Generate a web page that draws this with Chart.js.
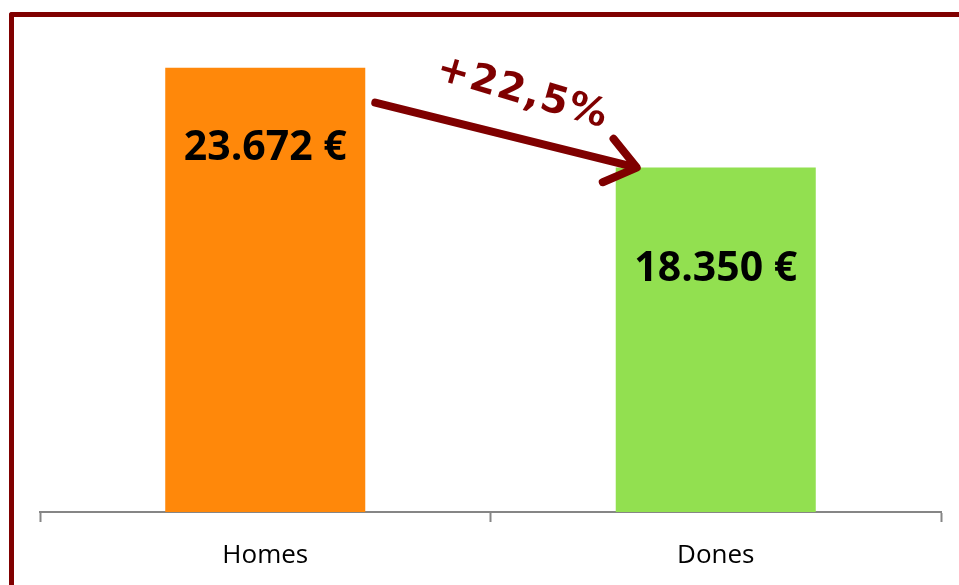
<!DOCTYPE html>
<html>
<head>
<meta charset="utf-8">
<script src="https://cdn.jsdelivr.net/npm/chart.js@4"></script>
<style>
  html, body { margin: 0; padding: 0; background: #fff; overflow: hidden; }
  #wrap { position: relative; width: 959px; height: 585px; }
  #frame {
    position: absolute; left: 9px; top: 12px; width: 1000px; height: 700px;
    border-left: 5px solid #800000; border-top: 5px solid #800000;
    border-top-left-radius: 3px; box-sizing: border-box;
  }
  canvas { position: absolute; left: 0; top: 0; }
</style>
</head>
<body>
<div id="wrap">
  <div id="frame"></div>
  <canvas id="chart" width="959" height="585"></canvas>
</div>
<script>
'use strict';

// ── Data ──────────────────────────────────────────────────
const CATEGORIES  = ['Homes', 'Dones'];
const VALUES      = [23672, 18350];
const VALUE_TEXT  = ['23.672 €', '18.350 €'];
const BAR_COLORS  = ['#ff880a', '#92e050'];
const CHANGE_TEXT = '+22,5%';

const MAROON    = '#7f0000';
const AXIS_GRAY = '#868686';
const LABEL_DROP = [81, 102];   // label centre below bar top

// ── Value labels inside the bars ─────────────────────────
const valueLabels = {
  id: 'valueLabels',
  afterDatasetsDraw(chart) {
    const ctx = chart.ctx;
    const bars = chart.getDatasetMeta(0).data;
    ctx.save();
    ctx.font = "bold 41px 'Open Sans', sans-serif";
    ctx.fillStyle = '#000';
    ctx.textAlign = 'center';
    ctx.textBaseline = 'middle';
    bars.forEach((bar, i) => {
      ctx.fillText(VALUE_TEXT[i], bar.x, bar.y + LABEL_DROP[i]);
    });
    ctx.restore();
  }
};

// ── Arrow + percentage between the bars ──────────────────
const changeArrow = {
  id: 'changeArrow',
  afterDatasetsDraw(chart) {
    const ctx = chart.ctx;
    const [a, b] = chart.getDatasetMeta(0).data;
    const x1 = a.x + a.width / 2 + 10, y1 = a.y + 35;
    const x2 = b.x - b.width / 2 + 21, y2 = b.y;
    const ang = Math.atan2(y2 - y1, x2 - x1);

    ctx.save();
    ctx.strokeStyle = MAROON;
    ctx.lineWidth = 8;
    ctx.lineCap = 'round';
    ctx.lineJoin = 'round';
    ctx.beginPath();
    ctx.moveTo(x1, y1);
    ctx.lineTo(x2 - 3 * Math.cos(ang), y2 - 3 * Math.sin(ang));
    ctx.stroke();

    // head
    const hl = 37, spread = 0.65;
    ctx.beginPath();
    ctx.moveTo(x2 - hl * Math.cos(ang - spread), y2 - hl * Math.sin(ang - spread));
    ctx.lineTo(x2, y2);
    ctx.lineTo(x2 - hl * Math.cos(ang + spread), y2 - hl * Math.sin(ang + spread));
    ctx.stroke();

    // label
    const mx = (x1 + x2) / 2 + 6, my = (y1 + y2) / 2;
    const off = 43;
    const tx = mx + off * Math.sin(ang), ty = my - off * Math.cos(ang);
    ctx.translate(tx, ty);
    ctx.rotate(ang + 0.04);
    ctx.fillStyle = MAROON;
    ctx.font = "bold 39px 'DejaVu Sans', sans-serif";
    ctx.textAlign = 'center';
    ctx.textBaseline = 'middle';
    if ('letterSpacing' in ctx) ctx.letterSpacing = '1.5px';
    ctx.fillText(CHANGE_TEXT, 0, 0);
    ctx.restore();
  }
};

// ── Chart ─────────────────────────────────────────────────
new Chart(document.getElementById('chart'), {
  type: 'bar',
  data: {
    labels: CATEGORIES,
    datasets: [{
      data: VALUES,
      backgroundColor: BAR_COLORS,
      borderWidth: 0,
      barPercentage: 0.444,
      categoryPercentage: 1
    }]
  },
  options: {
    responsive: false,
    animation: false,
    devicePixelRatio: 1,
    layout: { padding: { left: 40, right: 18, top: 24, bottom: 0 } },
    plugins: { legend: { display: false }, tooltip: { enabled: false } },
    scales: {
      x: {
        border: { display: true, color: AXIS_GRAY, width: 2 },
        grid: {
          display: true,
          drawOnChartArea: false,
          drawTicks: true,
          tickLength: 10,
          tickWidth: 2,
          color: AXIS_GRAY
        },
        ticks: {
          color: '#000',
          padding: 18,
          font: { family: "'Open Sans', sans-serif", size: 26 }
        },
        afterFit(scale) { scale.height = 73; }
      },
      y: {
        display: false,
        min: 0,
        max: 26000
      }
    }
  },
  plugins: [valueLabels, changeArrow]
});
</script>
</body>
</html>
